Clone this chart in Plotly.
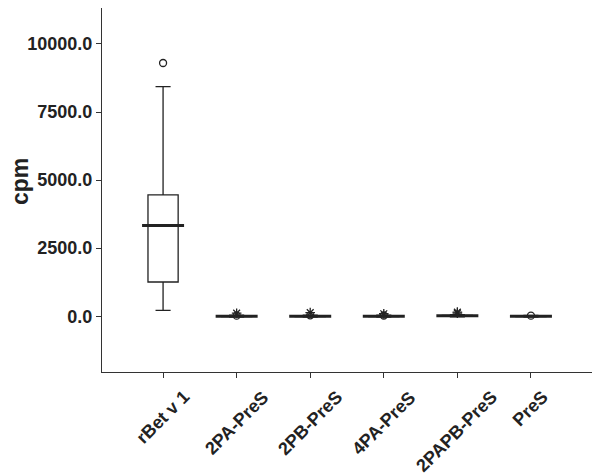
import plotly.graph_objects as go

# box statistics (cpm)
categories = ["rBet v 1", "2PA-PreS", "2PB-PreS", "4PA-PreS", "2PAPB-PreS", "PreS"]
lower_fence = [210, -30, -30, -30, -20, -30]
q1 = [1255, -15, -15, -15, 0, -15]
medians = [3330, 0, 0, 0, 15, 0]
q3 = [4455, 15, 15, 15, 30, 15]
upper_fence = [8430, 40, 40, 40, 60, 30]

# outliers
circle_x = ["rBet v 1", "2PA-PreS", "2PB-PreS", "4PA-PreS", "PreS"]
circle_y = [9300, 20, 30, 25, 20]
star_x = ["2PA-PreS", "2PB-PreS", "4PA-PreS", "2PAPB-PreS", "2PAPB-PreS"]
star_y = [110, 130, 90, 150, 110]

ink = "#222222"
font_name = "Liberation Sans, Arial, sans-serif"

fig = go.Figure()

fig.add_trace(go.Box(
    x=categories,
    q1=q1, median=medians, q3=q3,
    lowerfence=lower_fence, upperfence=upper_fence,
    fillcolor="white",
    line=dict(color=ink, width=1.3),
    whiskerwidth=0.5,
    boxpoints=False,
    hoverinfo="skip",
))

# median lines look heavier in the source, redraw them as thick dashes
fig.add_trace(go.Scatter(
    x=categories, y=medians, mode="markers",
    marker=dict(symbol="line-ew", size=30, color=ink, line=dict(color=ink, width=3)),
    hoverinfo="skip",
))

fig.add_trace(go.Scatter(
    x=circle_x, y=circle_y, mode="markers",
    marker=dict(symbol="circle-open", size=7, color=ink, line=dict(color=ink, width=1.3)),
))
fig.add_trace(go.Scatter(
    x=star_x, y=star_y, mode="markers",
    marker=dict(symbol="asterisk-open", size=8, color=ink, line=dict(color=ink, width=1.3)),
))

# category labels: rotated and centred under their ticks, like the original
for cat in categories:
    fig.add_annotation(
        x=cat, xref="x", y=0, yref="paper",
        text=cat, textangle=-45, showarrow=False,
        xanchor="center", yanchor="top", yshift=-12,
        font=dict(size=18, family=font_name, weight="bold", color=ink),
    )

# axis title placed by hand so the margins stay fixed
fig.add_annotation(
    x=0, xref="paper", y=0.5, yref="paper",
    text="cpm", textangle=-90, showarrow=False, borderpad=0,
    xanchor="center", yanchor="middle", xshift=-82, yshift=8,
    font=dict(size=23, family=font_name, weight="bold", color=ink),
)

# page body adds an 8px offset, margins are shifted to compensate
fig.update_layout(
    width=600, height=475,
    margin=dict(l=94, r=16, t=0, b=111),
    plot_bgcolor="white",
    paper_bgcolor="white",
    showlegend=False,
    boxgap=0.59,
    boxgroupgap=0,
    font=dict(family=font_name, color=ink),
)

fig.update_xaxes(
    type="category",
    range=[-0.83, 5.83],
    showline=True, linecolor="#333333", linewidth=1.3, mirror=True,
    showgrid=False,
    ticks="outside", ticklen=5, tickcolor="#333333",
    showticklabels=False,
    automargin=False,
)

fig.update_yaxes(
    range=[-2050, 11320],
    tickvals=[0, 2500, 5000, 7500, 10000],
    tickformat=".1f",
    showline=True, linecolor="#333333", linewidth=1.3, mirror=True,
    showgrid=False, zeroline=False,
    ticks="outside", ticklen=5, tickcolor="#333333",
    tickfont=dict(size=18, family=font_name, weight="bold"),
    automargin=False,
)

fig.write_html("out.html")
